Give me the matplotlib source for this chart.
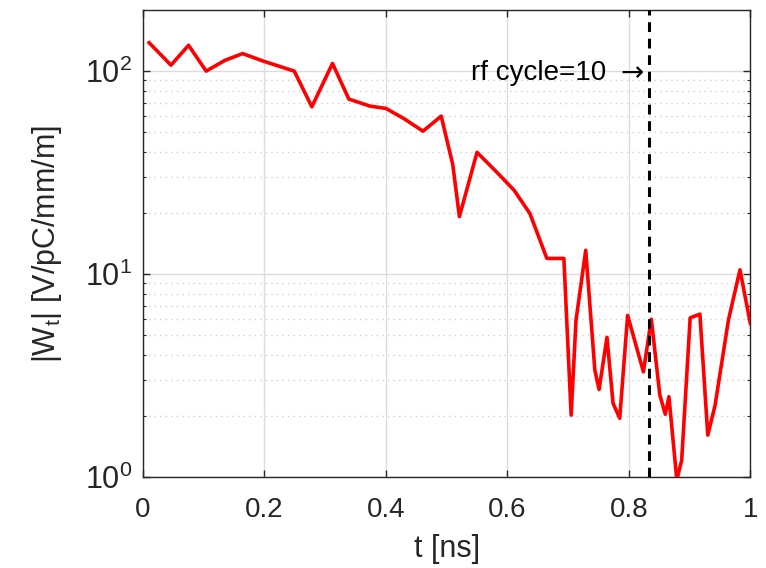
import numpy as np
import matplotlib
matplotlib.use('Agg')
import matplotlib.pyplot as plt
from matplotlib.ticker import LogLocator, NullFormatter

plt.rcParams['font.family'] = ['Liberation Sans', 'DejaVu Sans']
plt.rcParams['mathtext.fontset'] = 'custom'
plt.rcParams['mathtext.rm'] = 'Liberation Sans'
plt.rcParams['mathtext.it'] = 'Liberation Sans:italic'
plt.rcParams['mathtext.default'] = 'regular'

# datos
t_ns = [0.010, 0.046, 0.075, 0.104, 0.135, 0.164, 0.198, 0.249, 0.278, 0.312,
        0.339, 0.374, 0.400, 0.429, 0.461, 0.491, 0.510, 0.521, 0.550, 0.582,
        0.611, 0.637, 0.665, 0.693, 0.705, 0.713, 0.729, 0.744, 0.751, 0.764,
        0.774, 0.785, 0.798, 0.824, 0.837, 0.851, 0.860, 0.866, 0.879, 0.887,
        0.901, 0.917, 0.930, 0.942, 0.964, 0.983, 1.000]
wt = [138, 107, 134, 100, 113, 122, 112, 100, 66.7, 109,
      72.8, 67.2, 65.5, 58.5, 50.6, 60, 34.7, 19.2, 39.8, 31.9,
      25.9, 19.9, 11.95, 11.95, 2.02, 5.93, 13.1, 3.37, 2.70, 4.88,
      2.31, 1.95, 6.26, 3.30, 6.0, 2.54, 2.04, 2.49, 0.97, 1.21,
      6.09, 6.35, 1.61, 2.26, 5.94, 10.5, 5.72]

t_rf = 10 / 12.0
etiqueta_rf = 'rf cycle=10'

fig = plt.figure(figsize=(7.66, 5.68), dpi=100)
ax = fig.add_axes([0.1867, 0.160, 0.7928, 0.8224])

ax.semilogy(t_ns, wt, color='red', lw=2.6, zorder=3)
ax.axvline(t_rf, color='black', lw=2.2, ls=(0, (3.2, 2.2)), zorder=4)
ax.text(0.762, 98, etiqueta_rf, ha='right', va='center', fontsize=20, color='black')
ax.text(0.825, 98, '\u2192', ha='right', va='center', fontsize=20,
        color='black', family='DejaVu Sans')

ax.set_xlim(0, 1)
ax.set_ylim(1, 200)
ax.set_xticks([0, 0.2, 0.4, 0.6, 0.8, 1])
ax.set_xticklabels(['0', '0.2', '0.4', '0.6', '0.8', '1'])
ax.yaxis.set_major_locator(LogLocator(base=10, numticks=10))
ax.yaxis.set_minor_locator(LogLocator(base=10, subs=np.arange(2, 10), numticks=10))
ax.yaxis.set_minor_formatter(NullFormatter())

gris = '#262626'
for s in ax.spines.values():
    s.set_color(gris)
    s.set_linewidth(1.0)
ax.tick_params(which='both', direction='in', top=True, right=True,
               colors=gris, labelsize=20)
ax.tick_params(axis='y', labelsize=22)
ax.tick_params(which='major', length=5, width=1.0)
ax.tick_params(which='minor', length=2.5, width=0.8)
ax.tick_params(axis='x', pad=14)
ax.tick_params(axis='y', pad=8)

ax.grid(True, which='major', color='#dcdcdc', lw=1.0, ls='-', zorder=0)
ax.grid(True, which='minor', axis='y', color='#cfcfcf', lw=1.0, ls=(0, (1, 3)), zorder=0)
ax.set_axisbelow(True)

ax.set_xlabel('t [ns]', fontsize=22, color=gris, labelpad=8)
ax.set_ylabel(r'|W$_t$| [V/pC/mm/m]', fontsize=22, color=gris, labelpad=15)

plt.savefig('out.png', dpi=100)
